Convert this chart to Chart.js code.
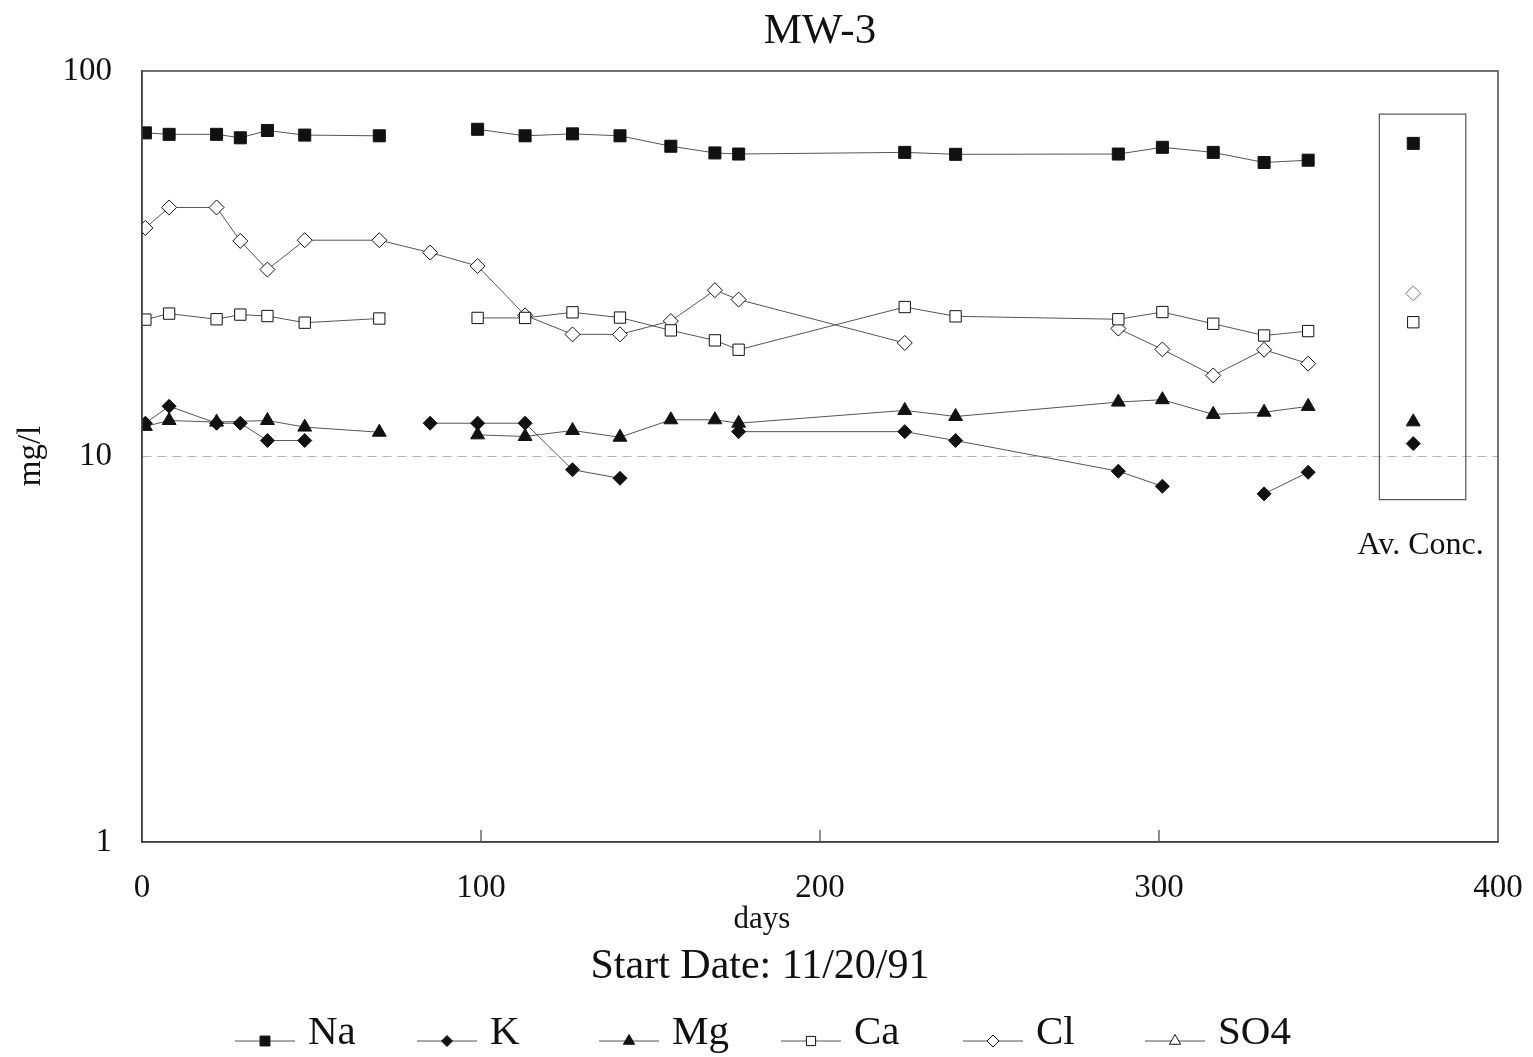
<!DOCTYPE html>
<html>
<head>
<meta charset="utf-8">
<title>MW-3</title>
<script src="https://cdn.jsdelivr.net/npm/chart.js@4.4.1/dist/chart.umd.min.js"></script>
<style>
  html, body { margin: 0; padding: 0; background: #fff; }
  #wrap { width: 1533px; height: 1057px; }
</style>
</head>
<body>
<div id="wrap"><canvas id="chart"></canvas></div>
<script>
// MW-3 - concentrations (mg/l) vs days, log scale

// sampling days per species (null value = gap in the line)
const naDays = [1, 8, 22, 29, 37, 48, 70, 85, 99, 113, 127, 141, 156, 169, 176, 225, 240, 288, 301, 316, 331, 344];
const naValues = [69.1, 68.5, 68.5, 67.1, 70.1, 68.2, 67.9, null, 70.6, 67.9, 68.7, 67.9, 63.8, 61.3, 60.9, 61.5, 60.8, 60.9, 63.4, 61.5, 57.9, 58.7];

const kDays = [1, 8, 22, 29, 37, 48, 70, 85, 99, 113, 127, 141, 156, 176, 225, 240, 288, 301, 316, 331, 344];
const kValues = [12.2, 13.5, 12.2, 12.2, 11.0, 11.0, null, 12.2, 12.2, 12.2, 9.24, 8.78, null, 11.6, 11.6, 11.0, 9.16, 8.37, null, 8.0, 9.1];

const mgDays = [1, 8, 22, 37, 48, 70, 85, 99, 113, 127, 141, 156, 169, 176, 225, 240, 288, 301, 316, 331, 344];
const mgValues = [11.97, 12.4, 12.28, 12.4, 11.92, 11.56, null, 11.38, 11.27, 11.68, 11.22, 12.45, 12.45, 12.2, 13.17, 12.7, 13.84, 14.04, 12.86, 13.03, 13.49];

const caDays = [1, 8, 22, 29, 37, 48, 70, 85, 99, 113, 127, 141, 156, 169, 176, 225, 240, 288, 301, 316, 331, 344];
const caValues = [22.65, 23.48, 22.7, 23.34, 23.14, 22.24, 22.8, null, 22.88, 22.88, 23.66, 22.93, 21.24, 20.01, 18.92, 24.42, 23.1, 22.7, 23.7, 22.1, 20.6, 21.15];

const clDays = [1, 8, 22, 29, 37, 48, 70, 85, 99, 113, 127, 141, 156, 169, 176, 225, 240, 288, 301, 316, 331, 344];
const clValues = [39.17, 44.26, 44.26, 36.24, 30.54, 36.4, 36.4, 33.8, 31.2, 23.24, 20.74, 20.74, 22.46, 27.0, 25.53, 19.7, null, 21.47, 18.96, 16.23, 18.92, 17.41];

const so4Days = [];
const so4Values = [];

// average concentrations (Na, K, Mg, Ca, Cl), plotted at one day
const avConcDay = 375;
const avConcValues = [64.9, 10.8, 12.3, 22.3, 26.5];
const avBoxDays = [365, 390.5];
const avBoxRange = [7.73, 77.3];

const xTicks = [0, 100, 200, 300, 400];
const yTicks = [1, 10, 100];

const FONT = '"Liberation Serif", "Times New Roman", serif';
const INK = '#111';
const LINE = '#555';

function toPoints(days, values) {
    return days.map((d, i) => ({ x: d, y: values[i] }));
}

const species = [
    { label: 'Na', days: naDays, values: naValues, style: 'rect', radius: 8.5, filled: true },
    { label: 'K', days: kDays, values: kValues, style: 'rectRot', radius: 7, filled: true },
    { label: 'Mg', days: mgDays, values: mgValues, style: 'triangle', radius: 8, filled: true },
    { label: 'Ca', days: caDays, values: caValues, style: 'rect', radius: 8, filled: false },
    { label: 'Cl', days: clDays, values: clValues, style: 'rectRot', radius: 7.5, filled: false },
    { label: 'SO4', days: so4Days, values: so4Values, style: 'triangle', radius: 8, filled: false }
];

function buildDataset(s) {
    return {
        label: s.label,
        data: toPoints(s.days, s.values),
        showLine: true,
        spanGaps: false,
        borderColor: LINE,
        borderWidth: 1,
        pointStyle: s.style,
        pointRadius: s.radius,
        pointHoverRadius: s.radius,
        pointBackgroundColor: s.filled ? INK : '#fff',
        pointBorderColor: INK,
        pointBorderWidth: 1
    };
}

function buildAvDataset(s, i) {
    return {
        label: s.label + ' av',
        data: [{ x: avConcDay, y: avConcValues[i] }],
        showLine: false,
        pointStyle: s.style,
        pointRadius: s.radius,
        pointBackgroundColor: s.filled ? INK : '#fff',
        pointBorderColor: s.label === 'Cl' ? '#777' : INK,
        pointBorderWidth: 1
    };
}

const decorations = {
    id: 'decorations',
    beforeDatasetsDraw(chart) {
        const { ctx, scales: { x, y } } = chart;
        const l = x.getPixelForValue(avBoxDays[0]);
        const r = x.getPixelForValue(avBoxDays[1]);
        const t = y.getPixelForValue(avBoxRange[1]);
        const b = y.getPixelForValue(avBoxRange[0]);
        ctx.save();
        ctx.strokeStyle = LINE;
        ctx.lineWidth = 1.2;
        ctx.strokeRect(l, t, r - l, b - t);
        ctx.fillStyle = INK;
        ctx.font = '32px ' + FONT;
        ctx.textAlign = 'center';
        ctx.textBaseline = 'alphabetic';
        ctx.fillText('Av. Conc.', (l + r) / 2 - 2, b + 54);
        ctx.restore();
    },
    afterDraw(chart) {
        const { ctx, chartArea: a, scales: { x } } = chart;
        ctx.save();
        // frame
        ctx.strokeStyle = '#444';
        ctx.lineWidth = 1.5;
        ctx.strokeRect(a.left, a.top, a.right - a.left, a.bottom - a.top);
        // inward ticks on the x axis
        ctx.lineWidth = 1.2;
        xTicks.slice(1, -1).forEach(v => {
            const px = x.getPixelForValue(v);
            ctx.beginPath();
            ctx.moveTo(px, a.bottom);
            ctx.lineTo(px, a.bottom - 12);
            ctx.stroke();
        });
        // texts
        ctx.fillStyle = INK;
        ctx.textAlign = 'center';
        ctx.textBaseline = 'alphabetic';
        ctx.font = '43px ' + FONT;
        ctx.fillText('MW-3', (a.left + a.right) / 2, 43);
        ctx.font = '31px ' + FONT;
        ctx.fillText('days', 762, 928);
        ctx.font = '42px ' + FONT;
        ctx.fillText('Start Date: 11/20/91', 760, 978);
        ctx.save();
        ctx.translate(40, 456);
        ctx.rotate(-Math.PI / 2);
        ctx.font = '33px ' + FONT;
        ctx.fillText('mg/l', 0, 0);
        ctx.restore();
        // legend
        ctx.textAlign = 'left';
        ctx.font = '41px ' + FONT;
        species.forEach((s, i) => {
            const cx = 265 + i * 182;
            const cy = 1041;
            ctx.strokeStyle = LINE;
            ctx.lineWidth = 1;
            ctx.beginPath();
            ctx.moveTo(cx - 30, cy);
            ctx.lineTo(cx + 30, cy);
            ctx.stroke();
            ctx.fillStyle = s.filled ? INK : '#fff';
            ctx.strokeStyle = INK;
            ctx.beginPath();
            Chart.helpers.drawPoint(ctx, { pointStyle: s.style, radius: s.radius - 1.5, borderWidth: 1 }, cx, cy);
            ctx.fillStyle = INK;
            ctx.fillText(s.label, cx + 43, 1044);
        });
        ctx.restore();
    }
};

new Chart(document.getElementById('chart'), {
    type: 'scatter',
    data: {
        datasets: species.map(buildDataset).concat(species.slice(0, 5).map(buildAvDataset))
    },
    options: {
        responsive: true,
        maintainAspectRatio: false,
        animation: false,
        events: [],
        layout: { padding: { left: 0, top: 71, right: 35, bottom: 0 } },
        plugins: {
            legend: { display: false },
            tooltip: { enabled: false },
            title: { display: false }
        },
        scales: {
            x: {
                type: 'linear',
                min: 0,
                max: 400,
                afterBuildTicks: scale => { scale.ticks = xTicks.map(v => ({ value: v })); },
                afterFit: scale => {
                    scale.height = 215;
                    scale.paddingLeft = 0;
                    scale.paddingRight = 0;
                },
                grid: { display: false },
                border: { display: true, color: '#444', width: 1.5 },
                ticks: {
                    color: INK,
                    padding: 19,
                    maxRotation: 0,
                    font: { family: FONT, size: 33 }
                }
            },
            y: {
                type: 'logarithmic',
                min: 1,
                max: 100,
                afterBuildTicks: scale => { scale.ticks = yTicks.map(v => ({ value: v })); },
                afterFit: scale => {
                    scale.width = 142;
                    scale.paddingTop = 0;
                    scale.paddingBottom = 0;
                },
                grid: {
                    drawTicks: false,
                    color: ctx => (ctx.tick && ctx.tick.value === 10 ? '#b5b5b5' : 'rgba(0,0,0,0)'),
                    lineWidth: 1
                },
                border: { display: true, color: '#444', width: 1.5, dash: [9, 6] },
                ticks: {
                    color: INK,
                    padding: 30,
                    font: { family: FONT, size: 33 },
                    callback: value => String(value)
                }
            }
        }
    },
    plugins: [decorations]
});
</script>
</body>
</html>
